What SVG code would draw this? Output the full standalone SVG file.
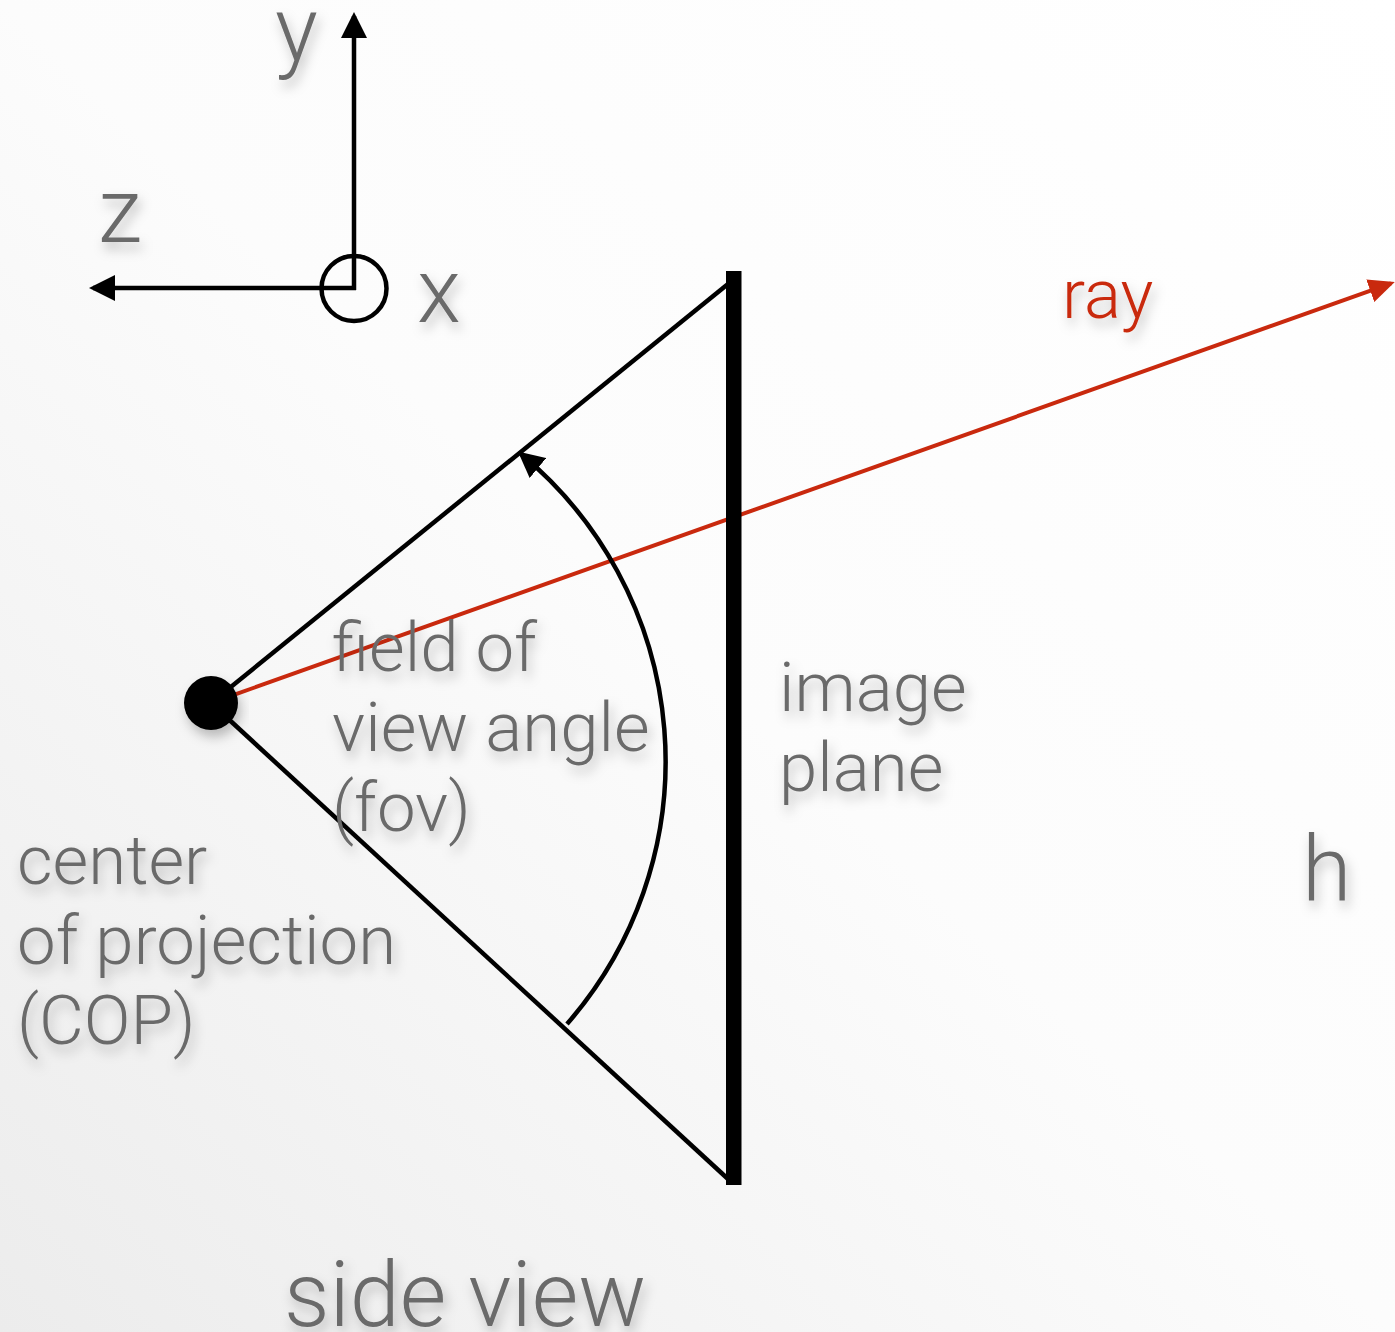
<svg xmlns="http://www.w3.org/2000/svg" width="1395" height="1332" viewBox="0 0 1395 1332">
<defs>
<linearGradient id="bg" x1="1" y1="0" x2="0" y2="1">
<stop offset="0" stop-color="#ffffff"/>
<stop offset="0.5" stop-color="#fcfcfc"/>
<stop offset="1" stop-color="#ececec"/>
</linearGradient>
<filter id="shadow" x="-20%" y="-30%" width="140%" height="170%">
<feDropShadow dx="3" dy="7" stdDeviation="6" flood-color="#000" flood-opacity="0.25"/>
</filter>
<marker id="ah" markerUnits="userSpaceOnUse" markerWidth="26" markerHeight="26" refX="22" refY="13" orient="auto" viewBox="0 0 26 26">
<path d="M0,0 L26,13 L0,26 z" fill="#000"/>
</marker>
<marker id="ahRed" markerUnits="userSpaceOnUse" markerWidth="26" markerHeight="26" refX="22" refY="13" orient="auto" viewBox="0 0 26 26">
<path d="M0,1 L26,13 L0,25 z" fill="#c9290e"/>
</marker>
</defs>
<style>
.lbl { font-family: Roboto, "Liberation Sans", sans-serif; font-weight: 300; fill: #6b6b6b; }
.m { font-size: 69px; }
.l { font-size: 90px; }
.ln { stroke: #000; stroke-width: 4.5; fill: none; }
</style>
<rect x="0" y="0" width="1395" height="1332" fill="url(#bg)"/>

<g id="connectors">
<line id="ray-line" x1="211" y1="703" x2="1391" y2="283.4" stroke="#c9290e" stroke-width="4" marker-end="url(#ahRed)"/>
<line id="frustum-top" class="ln" x1="211" y1="703" x2="728" y2="284"/>
<line id="frustum-bottom" class="ln" x1="211" y1="703" x2="728" y2="1179"/>
<path id="fov-arc" class="ln" d="M567,1024 A399,399 0 0 0 521,454" marker-end="url(#ah)"/>
<line id="axis-y" class="ln" x1="354" y1="290" x2="354" y2="16" marker-end="url(#ah)"/>
<line id="axis-z" class="ln" x1="356" y1="288" x2="93" y2="288" marker-end="url(#ah)"/>
</g>

<g id="axis-x-node">
<circle cx="354" cy="288.5" r="32.5" fill="none" stroke="#000" stroke-width="4.5"/>
</g>

<g id="image-plane">
<rect x="726" y="271" width="15.5" height="914" fill="#000"/>
</g>

<g id="cop">
<circle cx="211" cy="703" r="27" fill="#000" filter="url(#shadow)"/>
</g>

<g id="labels" filter="url(#shadow)">
<text class="lbl l" x="275" y="61">y</text>
<text class="lbl l" x="98" y="242">z</text>
<text class="lbl l" x="417" y="322">x</text>
<text class="lbl m" x="1062" y="318" style="fill:#c9290e">ray</text>
<text class="lbl m" x="332" y="671">field of</text>
<text class="lbl m" x="332" y="751">view angle</text>
<text class="lbl m" x="332" y="831">(fov)</text>
<text class="lbl m" x="779" y="711">image</text>
<text class="lbl m" x="779" y="791">plane</text>
<text class="lbl m" x="17" y="884">center</text>
<text class="lbl m" x="17" y="964">of projection</text>
<text class="lbl m" x="17" y="1044">(COP)</text>
<text class="lbl l" x="1302" y="900">h</text>
<text class="lbl l" x="284" y="1326">side view</text>
</g>
</svg>
